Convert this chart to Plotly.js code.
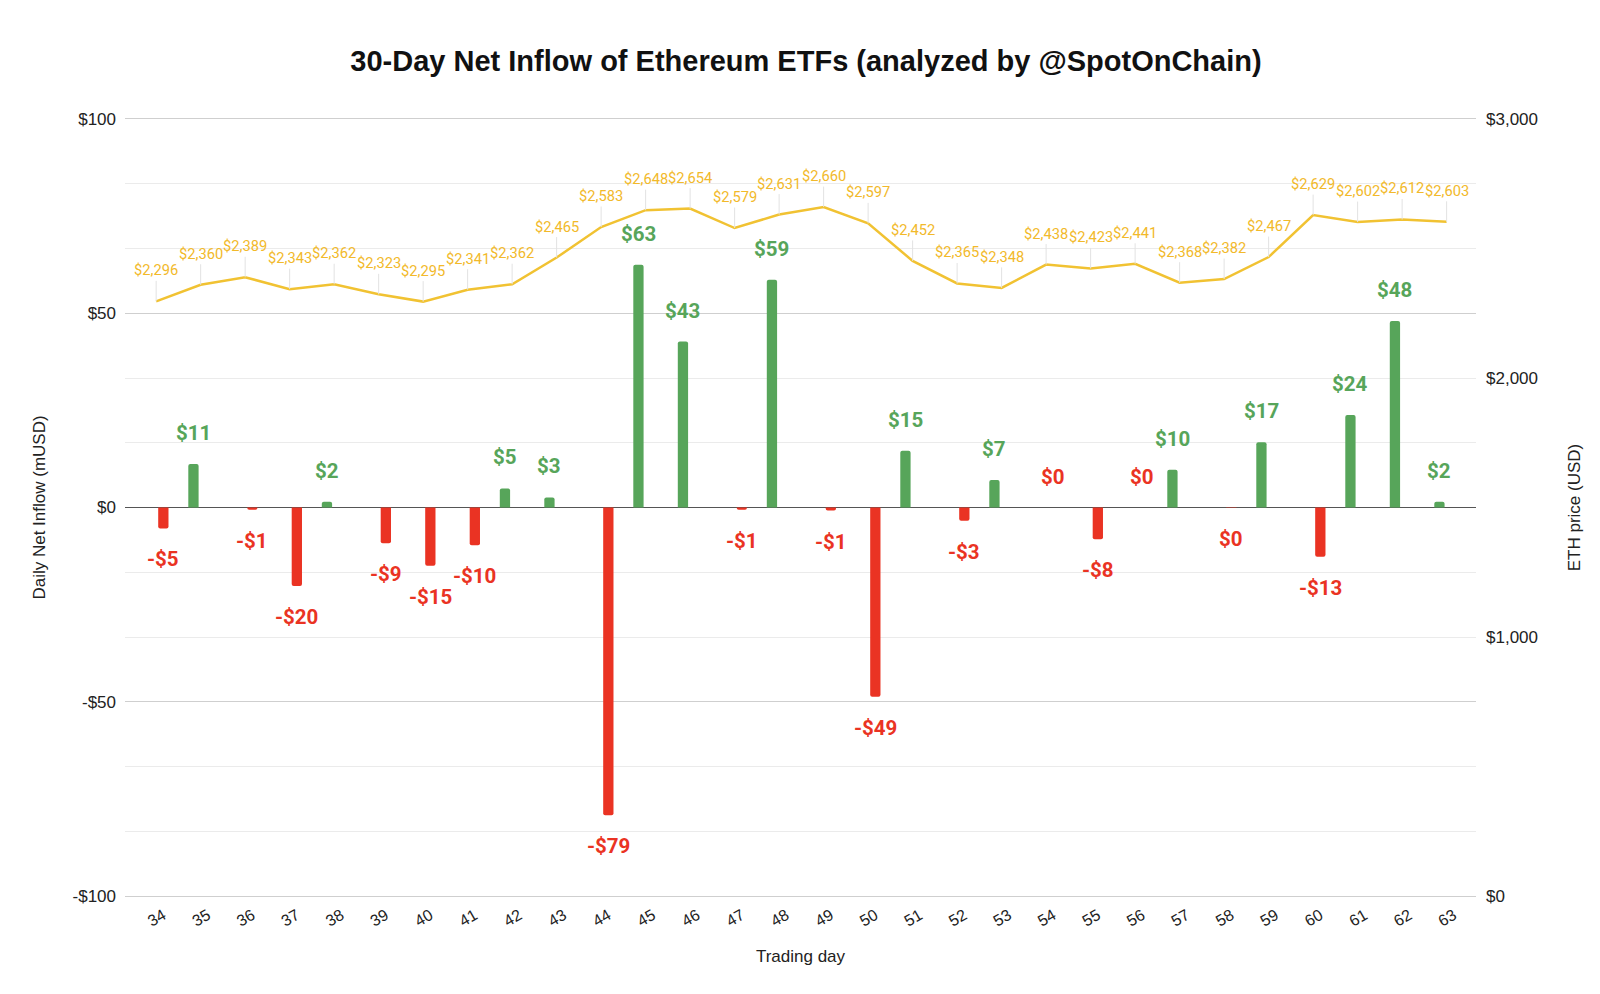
<!DOCTYPE html>
<html>
<head>
<meta charset="utf-8">
<script src="https://cdn.plot.ly/plotly-3.0.1.min.js"></script>
<style>
html, body { margin: 0; padding: 0; background: #ffffff; }
#chart { width: 1600px; height: 994px; }
</style>
</head>
<body>
<div id="chart"></div>
<script>
// ---- Data ----
const tradingDays = [34, 35, 36, 37, 38, 39, 40, 41, 42, 43, 44, 45, 46, 47, 48, 49, 50, 51, 52, 53, 54, 55, 56, 57, 58, 59, 60, 61, 62, 63];

// Daily net inflow, mUSD (positive days)
const inflowValues = [null, 11.2, null, null, 1.5, null, null, null, 4.9, 2.6, null, 62.5, 42.7, null, 58.6, null, null, 14.6, null, 7.1, null, null, null, 9.7, null, 16.8, null, 23.8, 48.0, 1.5];

// Daily net outflow, mUSD (negative / zero days)
const outflowValues = [-5.4, null, -0.6, -20.2, null, -9.2, -15.0, -9.7, null, null, -79.2, null, null, -0.6, null, -0.8, -48.7, null, -3.4, null, 0, -8.2, 0, null, -0.1, null, -12.7, null, null, null];

// ETH price, USD
const ethPrice = [2296, 2360, 2389, 2343, 2362, 2323, 2295, 2341, 2362, 2465, 2583, 2648, 2654, 2579, 2631, 2660, 2597, 2452, 2365, 2348, 2438, 2423, 2441, 2368, 2382, 2467, 2629, 2602, 2612, 2603];

// Axis tick labels
const leftTickVals = [-100, -50, 0, 50, 100];
const leftTickText = ['-$100', '-$50', '$0', '$50', '$100'];
const rightTickVals = [0, 1000, 2000, 3000];
const rightTickText = ['$0', '$1,000', '$2,000', '$3,000'];

// ---- Styling ----
const GREEN = '#57a55a';
const RED = '#ea3323';
const GOLD = '#f1c232';
const GOLD_TEXT = '#f2b92a';

const BARGAP = 0.353;
const BARGROUPGAP = 0.285;
const slot = (1 - BARGAP) / 2;           // width of one bar slot in data units
const greenOffset = -slot / 2;
const redOffset = slot / 2;

function fmtMoney(v) {
  const r = Math.round(Math.abs(v));
  const s = r.toLocaleString('en-US');
  return (v < 0 && r > 0 ? '-$' : '$') + s;
}

const traces = [
  {
    type: 'bar', name: 'Inflow', x: tradingDays, y: inflowValues,
    marker: { color: GREEN }, yaxis: 'y', hoverinfo: 'x+y'
  },
  {
    type: 'bar', name: 'Outflow', x: tradingDays, y: outflowValues,
    marker: { color: RED }, yaxis: 'y', hoverinfo: 'x+y'
  },
  {
    type: 'scatter', mode: 'lines', name: 'ETH price', x: tradingDays, y: ethPrice,
    line: { color: GOLD, width: 2.5 }, yaxis: 'y2', hoverinfo: 'x+y'
  }
];

const annotations = [];
tradingDays.forEach((d, i) => {
  const g = inflowValues[i];
  if (g !== null) {
    annotations.push({
      x: d + greenOffset, y: g, xref: 'x', yref: 'y', text: fmtMoney(g),
      showarrow: false, yshift: 31,
      font: { family: 'Roboto', size: 20.5, color: GREEN, weight: 'bold' }
    });
  }
  const r = outflowValues[i];
  if (r !== null) {
    annotations.push({
      x: d + redOffset, y: r, xref: 'x', yref: 'y', text: fmtMoney(r),
      showarrow: false, yshift: r < 0 ? -31 : 31,
      font: { family: 'Roboto', size: 20.5, color: RED, weight: 'bold' }
    });
  }
  annotations.push({
    x: d, y: ethPrice[i], xref: 'x', yref: 'y2', text: fmtMoney(ethPrice[i]),
    showarrow: true, arrowhead: 0, arrowwidth: 1, arrowcolor: '#e2e2e2',
    ax: 0, ay: -31, standoff: 0, startstandoff: 0,
    font: { family: 'Roboto', size: 14.7, color: GOLD_TEXT }
  });
});

const layout = {
  width: 1600, height: 994,
  paper_bgcolor: '#ffffff', plot_bgcolor: '#ffffff',
  margin: { l: 125, r: 124, t: 119, b: 98, pad: 0 },
  showlegend: false,
  barmode: 'group', bargap: BARGAP, bargroupgap: BARGROUPGAP,
  barcornerradius: 2,
  font: { family: 'Liberation Sans, Arial, sans-serif', color: '#222222' },
  title: {
    text: '30-Day Net Inflow of Ethereum ETFs (analyzed by @SpotOnChain)',
    font: { family: 'Liberation Sans, Arial, sans-serif', size: 29, color: '#111111', weight: 'bold' },
    x: 806 / 1600, xanchor: 'center', xref: 'container',
    y: 1 - 61 / 994, yanchor: 'middle', yref: 'container'
  },
  xaxis: {
    type: 'linear', range: [33.3, 63.66],
    tickvals: tradingDays, ticktext: tradingDays.map(String),
    tickangle: -30, ticks: '', showgrid: false, zeroline: false,
    showline: true, mirror: true, linecolor: '#cfcfcf', linewidth: 1,
    tickfont: { size: 16, color: '#222222' },
    ticklabelshift: 7, ticklabelstandoff: 3,
    title: { text: 'Trading day', font: { size: 17, color: '#222222' }, standoff: 21 }
  },
  yaxis: {
    range: [-100, 100], tickvals: leftTickVals, ticktext: leftTickText,
    showgrid: true, gridcolor: '#cfcfcf', gridwidth: 1,
    zeroline: true, zerolinecolor: '#555555', zerolinewidth: 1.3,
    minor: { tick0: -100, dtick: 200 / 12, showgrid: true, gridcolor: '#ebebeb', gridwidth: 1, ticks: '' },
    ticks: '', showline: false, ticklabelstandoff: 8,
    tickfont: { size: 17, color: '#222222' },
    title: { text: 'Daily Net Inflow (mUSD)', font: { size: 17, color: '#222222' }, standoff: 22 }
  },
  yaxis2: {
    overlaying: 'y', side: 'right', range: [0, 3000],
    tickvals: rightTickVals, ticktext: rightTickText,
    showgrid: false, zeroline: false, ticks: '', showline: false, ticklabelstandoff: 9,
    tickfont: { size: 17, color: '#222222' },
    title: { text: 'ETH price (USD)', font: { size: 17, color: '#222222' }, standoff: 31 }
  },
  annotations: annotations
};

Plotly.newPlot('chart', traces, layout, { displayModeBar: false, staticPlot: true });
</script>
</body>
</html>
